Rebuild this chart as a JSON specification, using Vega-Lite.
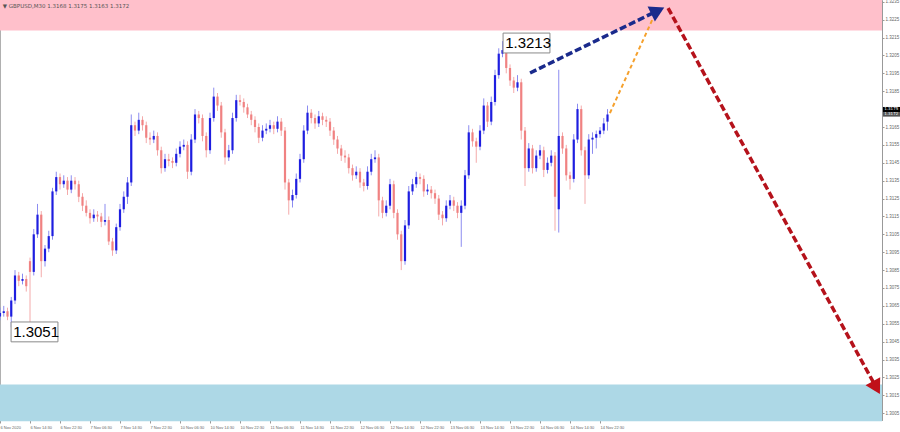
{
  "$schema": "https://vega.github.io/schema/vega-lite/v6.json",
  "width": 882,
  "height": 420,
  "autosize": {"type": "none"},
  "padding": {"left": 0, "top": 0, "right": 18, "bottom": 12},
  "background": "white",
  "config": {
    "view": {"stroke": "#b0b0b0", "strokeWidth": 1},
    "font": "DejaVu Sans",
    "axis": {"labelOverlap": false, "labelBound": false, "labelFont": "Liberation Sans"}
  },
  "datasets": {
    "candles": [
      {"i":0,"o":1.3059,"h":1.3064,"l":1.3057,"c":1.3061},
      {"i":2,"o":1.3061,"h":1.3065,"l":1.3059,"c":1.3062},
      {"i":4,"o":1.3062,"h":1.3064,"l":1.3057,"c":1.3059},
      {"i":6,"o":1.3059,"h":1.3070,"l":1.3053,"c":1.3068},
      {"i":8,"o":1.3068,"h":1.3085,"l":1.3066,"c":1.3082},
      {"i":10,"o":1.3082,"h":1.3084,"l":1.3076,"c":1.3079},
      {"i":12,"o":1.3079,"h":1.3083,"l":1.3077,"c":1.3080},
      {"i":14,"o":1.3080,"h":1.3082,"l":1.3073,"c":1.3076},
      {"i":16,"o":1.3090,"h":1.3092,"l":1.3052,"c":1.3084},
      {"i":18,"o":1.3084,"h":1.3108,"l":1.3082,"c":1.3105},
      {"i":20,"o":1.3105,"h":1.3122,"l":1.3103,"c":1.3116},
      {"i":22,"o":1.3116,"h":1.3118,"l":1.3081,"c":1.3090},
      {"i":24,"o":1.3090,"h":1.3099,"l":1.3087,"c":1.3097},
      {"i":26,"o":1.3097,"h":1.3107,"l":1.3095,"c":1.3104},
      {"i":28,"o":1.3104,"h":1.3131,"l":1.3102,"c":1.3129},
      {"i":30,"o":1.3129,"h":1.3140,"l":1.3127,"c":1.3137},
      {"i":32,"o":1.3137,"h":1.3139,"l":1.3130,"c":1.3133},
      {"i":34,"o":1.3133,"h":1.3138,"l":1.3131,"c":1.3135},
      {"i":36,"o":1.3135,"h":1.3137,"l":1.3127,"c":1.3130},
      {"i":38,"o":1.3130,"h":1.3138,"l":1.3128,"c":1.3135},
      {"i":40,"o":1.3135,"h":1.3137,"l":1.3130,"c":1.3133},
      {"i":42,"o":1.3133,"h":1.3135,"l":1.3123,"c":1.3126},
      {"i":44,"o":1.3126,"h":1.3128,"l":1.3118,"c":1.3121},
      {"i":46,"o":1.3121,"h":1.3124,"l":1.3115,"c":1.3117},
      {"i":48,"o":1.3117,"h":1.3119,"l":1.3111,"c":1.3114},
      {"i":50,"o":1.3114,"h":1.3119,"l":1.3112,"c":1.3116},
      {"i":52,"o":1.3116,"h":1.3118,"l":1.3112,"c":1.3115},
      {"i":54,"o":1.3115,"h":1.3117,"l":1.3109,"c":1.3112},
      {"i":56,"o":1.3112,"h":1.3122,"l":1.3110,"c":1.3113},
      {"i":58,"o":1.3113,"h":1.3115,"l":1.3099,"c":1.3101},
      {"i":60,"o":1.3101,"h":1.3103,"l":1.3093,"c":1.3096},
      {"i":62,"o":1.3096,"h":1.3111,"l":1.3094,"c":1.3109},
      {"i":64,"o":1.3109,"h":1.3122,"l":1.3107,"c":1.3119},
      {"i":66,"o":1.3119,"h":1.3129,"l":1.3117,"c":1.3126},
      {"i":68,"o":1.3126,"h":1.3137,"l":1.3122,"c":1.3134},
      {"i":70,"o":1.3134,"h":1.3172,"l":1.3132,"c":1.3166},
      {"i":72,"o":1.3166,"h":1.3168,"l":1.3160,"c":1.3163},
      {"i":74,"o":1.3163,"h":1.3173,"l":1.3161,"c":1.3169},
      {"i":76,"o":1.3169,"h":1.3171,"l":1.3163,"c":1.3166},
      {"i":78,"o":1.3166,"h":1.3168,"l":1.3156,"c":1.3159},
      {"i":80,"o":1.3159,"h":1.3162,"l":1.3155,"c":1.3158},
      {"i":82,"o":1.3158,"h":1.3163,"l":1.3156,"c":1.3160},
      {"i":84,"o":1.3160,"h":1.3162,"l":1.3149,"c":1.3152},
      {"i":86,"o":1.3152,"h":1.3154,"l":1.3139,"c":1.3142},
      {"i":88,"o":1.3142,"h":1.3150,"l":1.3140,"c":1.3147},
      {"i":90,"o":1.3147,"h":1.3150,"l":1.3143,"c":1.3146},
      {"i":92,"o":1.3146,"h":1.3148,"l":1.3142,"c":1.3145},
      {"i":94,"o":1.3145,"h":1.3153,"l":1.3143,"c":1.3150},
      {"i":96,"o":1.3150,"h":1.3157,"l":1.3148,"c":1.3154},
      {"i":98,"o":1.3154,"h":1.3158,"l":1.3152,"c":1.3155},
      {"i":100,"o":1.3155,"h":1.3157,"l":1.3136,"c":1.3140},
      {"i":102,"o":1.3140,"h":1.3161,"l":1.3138,"c":1.3158},
      {"i":104,"o":1.3158,"h":1.3175,"l":1.3156,"c":1.3172},
      {"i":106,"o":1.3172,"h":1.3174,"l":1.3167,"c":1.3170},
      {"i":108,"o":1.3170,"h":1.3172,"l":1.3157,"c":1.3160},
      {"i":110,"o":1.3160,"h":1.3162,"l":1.3148,"c":1.3152},
      {"i":112,"o":1.3152,"h":1.3173,"l":1.3150,"c":1.3170},
      {"i":114,"o":1.3170,"h":1.3187,"l":1.3168,"c":1.3182},
      {"i":116,"o":1.3182,"h":1.3184,"l":1.3174,"c":1.3177},
      {"i":118,"o":1.3177,"h":1.3179,"l":1.3159,"c":1.3162},
      {"i":120,"o":1.3162,"h":1.3164,"l":1.3144,"c":1.3148},
      {"i":122,"o":1.3148,"h":1.3155,"l":1.3146,"c":1.3152},
      {"i":124,"o":1.3152,"h":1.3173,"l":1.3150,"c":1.3170},
      {"i":126,"o":1.3170,"h":1.3183,"l":1.3168,"c":1.3180},
      {"i":128,"o":1.3180,"h":1.3183,"l":1.3177,"c":1.3179},
      {"i":130,"o":1.3179,"h":1.3181,"l":1.3173,"c":1.3176},
      {"i":132,"o":1.3176,"h":1.3178,"l":1.3170,"c":1.3172},
      {"i":134,"o":1.3172,"h":1.3174,"l":1.3166,"c":1.3169},
      {"i":136,"o":1.3169,"h":1.3171,"l":1.3162,"c":1.3165},
      {"i":138,"o":1.3165,"h":1.3167,"l":1.3156,"c":1.3159},
      {"i":140,"o":1.3159,"h":1.3166,"l":1.3157,"c":1.3163},
      {"i":142,"o":1.3163,"h":1.3167,"l":1.3161,"c":1.3164},
      {"i":144,"o":1.3164,"h":1.3169,"l":1.3162,"c":1.3166},
      {"i":146,"o":1.3166,"h":1.3168,"l":1.3161,"c":1.3164},
      {"i":148,"o":1.3164,"h":1.3171,"l":1.3162,"c":1.3168},
      {"i":150,"o":1.3168,"h":1.3170,"l":1.3160,"c":1.3163},
      {"i":152,"o":1.3163,"h":1.3165,"l":1.3130,"c":1.3134},
      {"i":154,"o":1.3134,"h":1.3136,"l":1.3116,"c":1.3124},
      {"i":156,"o":1.3124,"h":1.3130,"l":1.3120,"c":1.3127},
      {"i":158,"o":1.3127,"h":1.3139,"l":1.3125,"c":1.3136},
      {"i":160,"o":1.3136,"h":1.3150,"l":1.3134,"c":1.3147},
      {"i":162,"o":1.3147,"h":1.3166,"l":1.3145,"c":1.3163},
      {"i":164,"o":1.3163,"h":1.3177,"l":1.3161,"c":1.3173},
      {"i":166,"o":1.3173,"h":1.3175,"l":1.3167,"c":1.3170},
      {"i":168,"o":1.3170,"h":1.3172,"l":1.3164,"c":1.3167},
      {"i":170,"o":1.3167,"h":1.3174,"l":1.3165,"c":1.3171},
      {"i":172,"o":1.3171,"h":1.3173,"l":1.3166,"c":1.3169},
      {"i":174,"o":1.3169,"h":1.3171,"l":1.3165,"c":1.3168},
      {"i":176,"o":1.3168,"h":1.3170,"l":1.3160,"c":1.3163},
      {"i":178,"o":1.3163,"h":1.3165,"l":1.3155,"c":1.3158},
      {"i":180,"o":1.3158,"h":1.3160,"l":1.3150,"c":1.3153},
      {"i":182,"o":1.3153,"h":1.3155,"l":1.3146,"c":1.3149},
      {"i":184,"o":1.3149,"h":1.3152,"l":1.3145,"c":1.3148},
      {"i":186,"o":1.3148,"h":1.3150,"l":1.3139,"c":1.3142},
      {"i":188,"o":1.3142,"h":1.3144,"l":1.3135,"c":1.3138},
      {"i":190,"o":1.3138,"h":1.3143,"l":1.3136,"c":1.3140},
      {"i":192,"o":1.3140,"h":1.3142,"l":1.3131,"c":1.3134},
      {"i":194,"o":1.3134,"h":1.3136,"l":1.3129,"c":1.3132},
      {"i":196,"o":1.3132,"h":1.3143,"l":1.3130,"c":1.3140},
      {"i":198,"o":1.3140,"h":1.3150,"l":1.3138,"c":1.3147},
      {"i":200,"o":1.3147,"h":1.3152,"l":1.3145,"c":1.3148},
      {"i":202,"o":1.3148,"h":1.3150,"l":1.3115,"c":1.3124},
      {"i":204,"o":1.3124,"h":1.3126,"l":1.3114,"c":1.3117},
      {"i":206,"o":1.3117,"h":1.3124,"l":1.3115,"c":1.3121},
      {"i":208,"o":1.3121,"h":1.3136,"l":1.3119,"c":1.3133},
      {"i":210,"o":1.3133,"h":1.3135,"l":1.3114,"c":1.3117},
      {"i":212,"o":1.3117,"h":1.3119,"l":1.3102,"c":1.3105},
      {"i":214,"o":1.3105,"h":1.3107,"l":1.3085,"c":1.3090},
      {"i":216,"o":1.3090,"h":1.3113,"l":1.3088,"c":1.3110},
      {"i":218,"o":1.3110,"h":1.3132,"l":1.3108,"c":1.3129},
      {"i":220,"o":1.3129,"h":1.3136,"l":1.3127,"c":1.3133},
      {"i":222,"o":1.3133,"h":1.3140,"l":1.3131,"c":1.3137},
      {"i":224,"o":1.3137,"h":1.3139,"l":1.3133,"c":1.3136},
      {"i":226,"o":1.3136,"h":1.3138,"l":1.3126,"c":1.3129},
      {"i":228,"o":1.3129,"h":1.3133,"l":1.3127,"c":1.3130},
      {"i":230,"o":1.3130,"h":1.3132,"l":1.3125,"c":1.3128},
      {"i":232,"o":1.3128,"h":1.3130,"l":1.3122,"c":1.3125},
      {"i":234,"o":1.3125,"h":1.3127,"l":1.3113,"c":1.3116},
      {"i":236,"o":1.3116,"h":1.3118,"l":1.3110,"c":1.3114},
      {"i":238,"o":1.3114,"h":1.3124,"l":1.3112,"c":1.3121},
      {"i":240,"o":1.3121,"h":1.3127,"l":1.3119,"c":1.3124},
      {"i":242,"o":1.3124,"h":1.3126,"l":1.3118,"c":1.3121},
      {"i":244,"o":1.3121,"h":1.3123,"l":1.3114,"c":1.3117},
      {"i":246,"o":1.3117,"h":1.3124,"l":1.3098,"c":1.3121},
      {"i":248,"o":1.3121,"h":1.3141,"l":1.3119,"c":1.3138},
      {"i":250,"o":1.3138,"h":1.3166,"l":1.3136,"c":1.3162},
      {"i":252,"o":1.3162,"h":1.3164,"l":1.3154,"c":1.3157},
      {"i":254,"o":1.3157,"h":1.3159,"l":1.3145,"c":1.3154},
      {"i":256,"o":1.3154,"h":1.3166,"l":1.3152,"c":1.3163},
      {"i":258,"o":1.3163,"h":1.3181,"l":1.3161,"c":1.3177},
      {"i":260,"o":1.3177,"h":1.3179,"l":1.3165,"c":1.3168},
      {"i":262,"o":1.3168,"h":1.3182,"l":1.3166,"c":1.3179},
      {"i":264,"o":1.3179,"h":1.3197,"l":1.3177,"c":1.3194},
      {"i":266,"o":1.3194,"h":1.3209,"l":1.3192,"c":1.3206},
      {"i":268,"o":1.3206,"h":1.3213,"l":1.3204,"c":1.3208},
      {"i":270,"o":1.3208,"h":1.3210,"l":1.3195,"c":1.3198},
      {"i":272,"o":1.3198,"h":1.3200,"l":1.3188,"c":1.3191},
      {"i":274,"o":1.3191,"h":1.3193,"l":1.3184,"c":1.3187},
      {"i":276,"o":1.3187,"h":1.3194,"l":1.3185,"c":1.3190},
      {"i":278,"o":1.3190,"h":1.3192,"l":1.3158,"c":1.3163},
      {"i":280,"o":1.3163,"h":1.3165,"l":1.3132,"c":1.3142},
      {"i":282,"o":1.3142,"h":1.3156,"l":1.3140,"c":1.3153},
      {"i":284,"o":1.3153,"h":1.3155,"l":1.3139,"c":1.3142},
      {"i":286,"o":1.3142,"h":1.3152,"l":1.3140,"c":1.3149},
      {"i":288,"o":1.3149,"h":1.3155,"l":1.3147,"c":1.3152},
      {"i":290,"o":1.3152,"h":1.3154,"l":1.3137,"c":1.3141},
      {"i":292,"o":1.3141,"h":1.3148,"l":1.3139,"c":1.3145},
      {"i":294,"o":1.3145,"h":1.3152,"l":1.3143,"c":1.3149},
      {"i":296,"o":1.3149,"h":1.3151,"l":1.3107,"c":1.3126},
      {"i":298,"o":1.3119,"h":1.3197,"l":1.3106,"c":1.3160},
      {"i":300,"o":1.3160,"h":1.3162,"l":1.3150,"c":1.3153},
      {"i":302,"o":1.3153,"h":1.3155,"l":1.3135,"c":1.3138},
      {"i":304,"o":1.3138,"h":1.3140,"l":1.3130,"c":1.3136},
      {"i":306,"o":1.3136,"h":1.3161,"l":1.3134,"c":1.3158},
      {"i":308,"o":1.3158,"h":1.3178,"l":1.3156,"c":1.3175},
      {"i":310,"o":1.3175,"h":1.3177,"l":1.3149,"c":1.3152},
      {"i":312,"o":1.3152,"h":1.3154,"l":1.3122,"c":1.3138},
      {"i":314,"o":1.3138,"h":1.3161,"l":1.3136,"c":1.3158},
      {"i":316,"o":1.3158,"h":1.3162,"l":1.3150,"c":1.3159},
      {"i":318,"o":1.3159,"h":1.3163,"l":1.3153,"c":1.3161},
      {"i":320,"o":1.3161,"h":1.3165,"l":1.3159,"c":1.3163},
      {"i":322,"o":1.3163,"h":1.3170,"l":1.3161,"c":1.3167},
      {"i":324,"o":1.3168,"h":1.3175,"l":1.3163,"c":1.3172}
    ],
    "zones": [
      {"zone":"target","x1":0,"x2":470.4,"p1":1.3219,"p2":1.3237},
      {"zone":"support","x1":0,"x2":470.4,"p1":1.30005,"p2":1.3021}
    ],
    "blueArrow": [
      {"i":282.7,"p":1.31952},
      {"i":349.5,"p":1.32294}
    ],
    "orangeLine": [
      {"i":325.3,"p":1.31728},
      {"i":348.3,"p":1.32259}
    ],
    "redArrow": [
      {"i":356.3,"p":1.32315},
      {"i":467.0,"p":1.30200}
    ],
    "headUp": [
      {"i":350.8,"p":1.32300}
    ],
    "headDown": [
      {"i":467.4,"p":1.30193}
    ],
    "boxes": [
      {"t":"1.3213","i1":268.3,"i2":293.3,"p1":1.32175,"p2":1.32064,"ti":269.4,"tp":1.32118},
      {"t":"1.3051","i1":5.9,"i2":30.9,"p1":1.30560,"p2":1.30449,"ti":7.0,"tp":1.30503}
    ],
    "header": [
      {"t":"▼  GBPUSD,M30  1.3168 1.3175 1.3163 1.3172","i":1.5,"p":1.32325}
    ],
    "askTag": [
      {"t":"1.3175","i1":470.9,"i2":480,"p1":1.31762,"p2":1.31734,"ti":471.6,"tp":1.31748}
    ],
    "bidTag": [
      {"t":"1.3172","i1":470.9,"i2":480,"p1":1.31734,"p2":1.31708,"ti":471.6,"tp":1.31721}
    ]
  },
  "layer": [
    {
      "data": {"name": "zones"},
      "mark": {"type": "rect"},
      "encoding": {
        "x": {"field": "x1", "type": "quantitative", "scale": {"domain": [0, 470.4], "nice": false, "zero": false},
          "axis": {"orient": "bottom", "values": [0,16,32,48,64,80,96,112,128,144,160,176,192,208,224,240,256,272,288,304,320], "tickCount": 100,
            "labelExpr": "['6 Nov 2020','6 Nov 14:30','6 Nov 22:30','7 Nov 06:30','7 Nov 14:30','7 Nov 22:30','10 Nov 06:30','10 Nov 14:30','10 Nov 22:30','11 Nov 06:30','11 Nov 14:30','11 Nov 22:30','12 Nov 06:30','12 Nov 14:30','12 Nov 22:30','13 Nov 06:30','13 Nov 14:30','13 Nov 22:30','14 Nov 06:30','14 Nov 14:30','14 Nov 22:30'][round(datum.value/16)]",
            "labelAlign": "left", "labelFontSize": 4, "labelColor": "#666666", "labelPadding": 2,
            "tickSize": 3, "tickColor": "#999999", "domainColor": "#999999", "grid": false, "title": null, "labelFlush": false, "labelOverlap": false}},
        "x2": {"field": "x2"},
        "y": {"field": "p1", "type": "quantitative", "scale": {"domain": [1.30012, 1.3236], "nice": false, "zero": false},
          "axis": {"orient": "right", "values": [1.3005,1.3015,1.3025,1.3035,1.3045,1.3055,1.3065,1.3075,1.3085,1.3095,1.3105,1.3115,1.3125,1.3135,1.3145,1.3155,1.3165,1.3185,1.3195,1.3205,1.3215,1.3225,1.3235], "tickCount": 100,
            "format": ".4f", "labelFontSize": 4.5, "labelColor": "#666666", "labelPadding": 1,
            "tickSize": 2, "tickColor": "#999999", "domainColor": "#999999", "grid": false, "title": null, "labelOverlap": false, "labelFlush": false}},
        "y2": {"field": "p2"},
        "color": {"field": "zone", "type": "nominal", "scale": {"domain": ["target","support"], "range": ["#ffc0cb","#add8e6"]}, "legend": null}
      }
    },
    {
      "data": {"name": "candles"},
      "mark": {"type": "rule", "strokeWidth": 1},
      "encoding": {
        "x": {"field": "i", "type": "quantitative"},
        "y": {"field": "l", "type": "quantitative"},
        "y2": {"field": "h"},
        "stroke": {"condition": {"test": "datum.c >= datum.o", "value": "#8c8cf0"}, "value": "#f4aaaa"}
      }
    },
    {
      "data": {"name": "candles"},
      "mark": {"type": "rule", "strokeWidth": 2.2},
      "encoding": {
        "x": {"field": "i", "type": "quantitative"},
        "y": {"field": "o", "type": "quantitative"},
        "y2": {"field": "c"},
        "stroke": {"condition": {"test": "datum.c >= datum.o", "value": "#1e1ee0"}, "value": "#f08282"}
      }
    },
    {
      "data": {"name": "orangeLine"},
      "mark": {"type": "line", "color": "#f5a02c", "strokeWidth": 2, "strokeDash": [4, 3]},
      "encoding": {
        "x": {"field": "i", "type": "quantitative"},
        "y": {"field": "p", "type": "quantitative"}
      }
    },
    {
      "data": {"name": "blueArrow"},
      "mark": {"type": "line", "color": "#1a2a8c", "strokeWidth": 3.5, "strokeDash": [7, 3]},
      "encoding": {
        "x": {"field": "i", "type": "quantitative"},
        "y": {"field": "p", "type": "quantitative"}
      }
    },
    {
      "data": {"name": "redArrow"},
      "mark": {"type": "line", "color": "#b5121b", "strokeWidth": 3.5, "strokeDash": [7, 3]},
      "encoding": {
        "x": {"field": "i", "type": "quantitative"},
        "y": {"field": "p", "type": "quantitative"}
      }
    },
    {
      "data": {"name": "headUp"},
      "mark": {"type": "point", "shape": "triangle-right", "filled": true, "size": 280, "opacity": 1, "fill": "#1a2a8c", "angle": 334},
      "encoding": {
        "x": {"field": "i", "type": "quantitative"},
        "y": {"field": "p", "type": "quantitative"}
      }
    },
    {
      "data": {"name": "headDown"},
      "mark": {"type": "point", "shape": "triangle-right", "filled": true, "size": 280, "opacity": 1, "fill": "#c0101a", "angle": 61},
      "encoding": {
        "x": {"field": "i", "type": "quantitative"},
        "y": {"field": "p", "type": "quantitative"}
      }
    },
    {
      "data": {"name": "boxes"},
      "mark": {"type": "rect", "fill": "white", "stroke": "#8a8a8a", "strokeWidth": 1},
      "encoding": {
        "x": {"field": "i1", "type": "quantitative"},
        "x2": {"field": "i2"},
        "y": {"field": "p1", "type": "quantitative"},
        "y2": {"field": "p2"}
      }
    },
    {
      "data": {"name": "boxes"},
      "mark": {"type": "text", "align": "left", "baseline": "middle", "fontSize": 15, "font": "Liberation Sans", "color": "#000000"},
      "encoding": {
        "x": {"field": "ti", "type": "quantitative"},
        "y": {"field": "tp", "type": "quantitative"},
        "text": {"field": "t"}
      }
    },
    {
      "data": {"name": "header"},
      "mark": {"type": "text", "align": "left", "baseline": "middle", "fontSize": 5.5, "color": "#555555"},
      "encoding": {
        "x": {"field": "i", "type": "quantitative"},
        "y": {"field": "p", "type": "quantitative"},
        "text": {"field": "t"}
      }
    },
    {
      "data": {"name": "askTag"},
      "mark": {"type": "rect", "fill": "#000000"},
      "encoding": {
        "x": {"field": "i1", "type": "quantitative"},
        "x2": {"field": "i2"},
        "y": {"field": "p1", "type": "quantitative"},
        "y2": {"field": "p2"}
      }
    },
    {
      "data": {"name": "bidTag"},
      "mark": {"type": "rect", "fill": "#555555"},
      "encoding": {
        "x": {"field": "i1", "type": "quantitative"},
        "x2": {"field": "i2"},
        "y": {"field": "p1", "type": "quantitative"},
        "y2": {"field": "p2"}
      }
    },
    {
      "data": {"name": "askTag"},
      "mark": {"type": "text", "align": "left", "baseline": "middle", "fontSize": 4, "color": "#ffffff"},
      "encoding": {
        "x": {"field": "ti", "type": "quantitative"},
        "y": {"field": "tp", "type": "quantitative"},
        "text": {"field": "t"}
      }
    },
    {
      "data": {"name": "bidTag"},
      "mark": {"type": "text", "align": "left", "baseline": "middle", "fontSize": 4, "color": "#ffffff"},
      "encoding": {
        "x": {"field": "ti", "type": "quantitative"},
        "y": {"field": "tp", "type": "quantitative"},
        "text": {"field": "t"}
      }
    }
  ]
}
